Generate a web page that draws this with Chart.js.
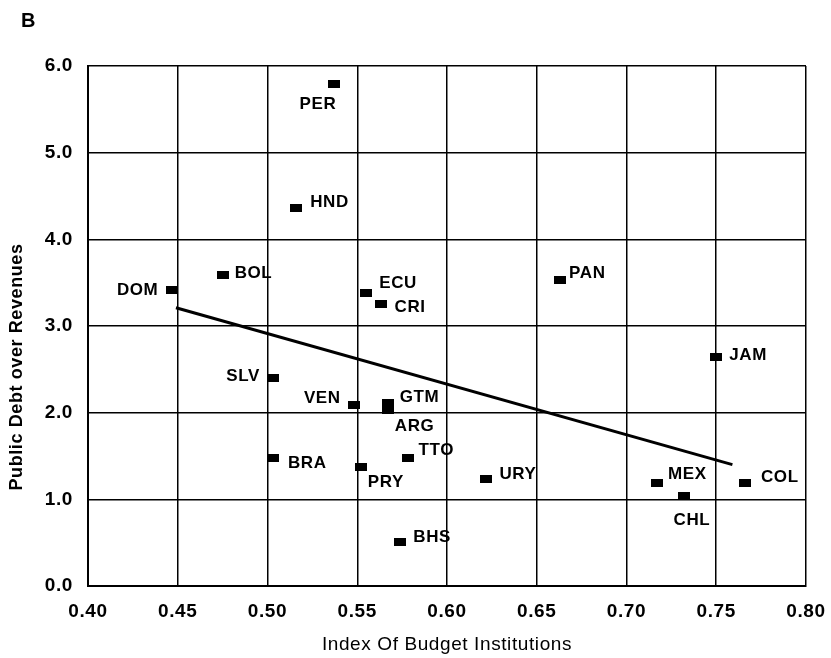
<!DOCTYPE html>
<html>
<head>
<meta charset="utf-8">
<script src="https://cdn.jsdelivr.net/npm/chart.js@4/dist/chart.umd.min.js"></script>
<style>
  html, body { margin: 0; padding: 0; background: #fff; }
  #wrap { width: 831px; height: 658px; }
</style>
</head>
<body>
<div id="wrap"><canvas id="chart" width="831" height="658"></canvas></div>
<script>
const countries = ['PER', 'HND', 'BOL', 'DOM', 'ECU', 'CRI', 'PAN', 'SLV', 'VEN', 'GTM',
                   'ARG', 'BRA', 'PRY', 'TTO', 'BHS', 'URY', 'MEX', 'CHL', 'COL', 'JAM'];
const budgetIndex = [0.537, 0.516, 0.475, 0.447, 0.555, 0.563, 0.663, 0.503, 0.548, 0.567,
                     0.567, 0.503, 0.552, 0.578, 0.574, 0.622, 0.717, 0.732, 0.766, 0.750];
const debtRatio = [5.79, 4.36, 3.59, 3.41, 3.38, 3.25, 3.53, 2.40, 2.09, 2.11,
                   2.03, 1.48, 1.37, 1.48, 0.51, 1.23, 1.19, 1.04, 1.19, 2.64];
const fitX = [0.449, 0.759];
const fitY = [3.21, 1.40];

const xTicks = [0.40, 0.45, 0.50, 0.55, 0.60, 0.65, 0.70, 0.75, 0.80];
const yTicks = [0, 1, 2, 3, 4, 5, 6];

const FONT = '"Liberation Sans", Arial, Helvetica, sans-serif';
const INK = '#000';
const SPACING = '0.6px';

// where each country's label sits relative to its marker
const LABEL_POS = {
    PER: ['center', -16, 20], HND: ['left', 14, -6], BOL: ['left', 12, -2],
    DOM: ['right', -14, 0], ECU: ['left', 13, -10], CRI: ['left', 14, 3],
    PAN: ['left', 9, -7], SLV: ['right', -13, -2], VEN: ['right', -13, -7],
    GTM: ['left', 12, -6], ARG: ['left', 7, 16], BRA: ['left', 15, 6],
    PRY: ['left', 7, 15], TTO: ['left', 11, -7], BHS: ['left', 13, -4],
    URY: ['left', 13, -5], MEX: ['left', 11, -9], CHL: ['center', 8, 24],
    COL: ['left', 16, -6], JAM: ['left', 13, -2],
};

function makeMarker() {
    const c = document.createElement('canvas');
    c.width = 12;
    c.height = 8;
    const g = c.getContext('2d');
    g.fillStyle = INK;
    g.fillRect(0, 0, 12, 8);
    return c;
}

const spacing = {
    id: 'spacing',
    beforeDraw(chart) {
        chart.ctx.letterSpacing = SPACING;
    }
};

const labels = {
    id: 'labels',
    afterDatasetsDraw(chart) {
        const ctx = chart.ctx;
        const meta = chart.getDatasetMeta(0);
        ctx.save();
        ctx.letterSpacing = SPACING;
        ctx.fillStyle = INK;
        ctx.font = 'bold 17px ' + FONT;
        ctx.textBaseline = 'middle';
        meta.data.forEach((pt, i) => {
            const [align, dx, dy] = LABEL_POS[countries[i]];
            ctx.textAlign = align;
            ctx.fillText(countries[i], pt.x + dx, pt.y + dy);
        });

        // y axis title and panel letter
        ctx.font = 'bold 18px ' + FONT;
        ctx.textAlign = 'center';
        ctx.save();
        ctx.translate(17, 367);
        ctx.rotate(-Math.PI / 2);
        ctx.fillText('Public Debt over Revenues', 0, 0);
        ctx.restore();

        ctx.font = 'bold 20px ' + FONT;
        ctx.textAlign = 'left';
        ctx.fillText('B', 21, 21);
        ctx.restore();
    }
};

new Chart(document.getElementById('chart'), {
    type: 'scatter',
    data: {
        datasets: [{
            data: budgetIndex.map((x, i) => ({ x, y: debtRatio[i] })),
            pointStyle: makeMarker(),
            pointRadius: 6,
            showLine: false,
        }, {
            data: fitX.map((x, i) => ({ x, y: fitY[i] })),
            showLine: true,
            borderColor: INK,
            borderWidth: 3,
            pointRadius: 0,
            fill: false,
        }]
    },
    options: {
        responsive: false,
        animation: false,
        layout: { autoPadding: false, padding: { left: 0, top: 66, right: 25, bottom: 0 } },
        plugins: {
            legend: { display: false },
            tooltip: { enabled: false },
        },
        scales: {
            x: {
                type: 'linear',
                min: 0.4,
                max: 0.8,
                afterFit: s => {
                    s.height = 72;
                    s.paddingLeft = 0;
                    s.paddingRight = 0;
                },
                afterBuildTicks: s => { s.ticks = xTicks.map(v => ({ value: v })); },
                ticks: {
                    color: INK,
                    padding: 14,
                    maxRotation: 0,
                    font: { family: FONT, size: 19, weight: 'bold' },
                    callback: v => v.toFixed(2),
                },
                grid: { color: INK, lineWidth: 1.5, drawTicks: false },
                border: { color: INK, width: 2 },
                title: {
                    display: true,
                    text: 'Index Of Budget Institutions',
                    color: INK,
                    font: { family: FONT, size: 19 },
                    padding: { top: 0, bottom: 2 },
                },
            },
            y: {
                type: 'linear',
                min: 0,
                max: 6,
                afterFit: s => {
                    s.width = 88;
                    s.paddingTop = 0;
                    s.paddingBottom = 0;
                },
                afterBuildTicks: s => { s.ticks = yTicks.map(v => ({ value: v })); },
                ticks: {
                    color: INK,
                    padding: 15,
                    font: { family: FONT, size: 19, weight: 'bold' },
                    callback: v => v.toFixed(1),
                },
                grid: { color: INK, lineWidth: 1.5, drawTicks: false },
                border: { color: INK, width: 2 },
            },
        },
    },
    plugins: [spacing, labels],
});
</script>
</body>
</html>
